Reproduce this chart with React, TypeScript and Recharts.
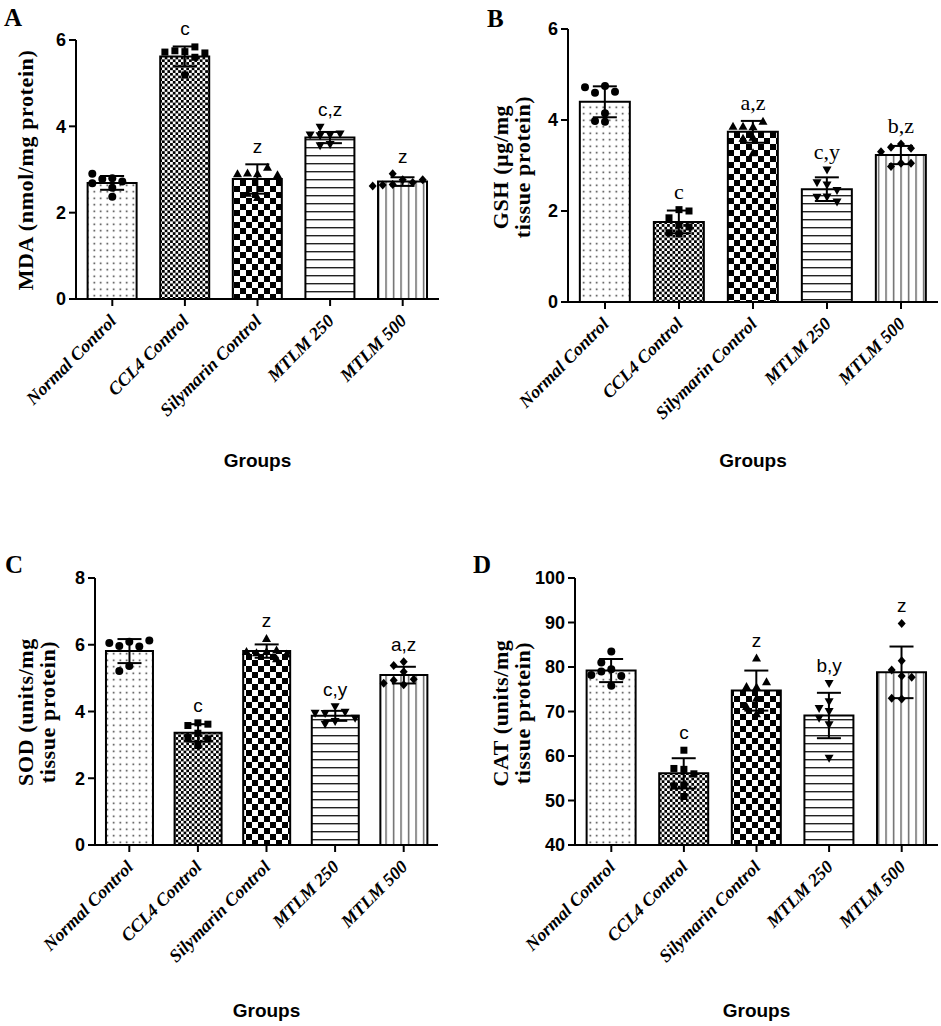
import React from "react";
import { ComposedChart, Bar, XAxis, YAxis, Scatter, ErrorBar, Cell } from "recharts";

const groups = ["Normal Control", "CCL4 Control", "Silymarin Control", "MTLM 250", "MTLM 500"];

// A - MDA
const mdaMean = [2.69, 5.62, 2.78, 3.74, 2.72];
const mdaSd = [0.16, 0.23, 0.34, 0.13, 0.1];
const mdaPoints = [
  [2.8, 2.78, 2.72, 2.68, 2.9, 2.37, 2.58],
  [5.73, 5.75, 5.84, 5.6, 5.72, 5.7, 5.19],
  [2.9, 2.92, 3.05, 2.9, 2.88, 2.35, 2.45],
  [3.8, 3.78, 3.98, 3.82, 3.8, 3.58, 3.55],
  [2.76, 2.65, 2.9, 2.7, 2.64, 2.76, 2.62],
];
const mdaLetters = ["", "c", "z", "c,z", "z"];
const mdaTicks = [0, 2, 4, 6];

// B - GSH
const gshMean = [4.4, 1.76, 3.74, 2.48, 3.23];
const gshSd = [0.34, 0.25, 0.24, 0.26, 0.2];
const gshPoints = [
  [4.75, 4.6, 4.62, 4.72, 4.15, 3.98, 3.96],
  [2.03, 1.7, 1.52, 1.85, 1.5, 1.65, 2.0],
  [3.85, 3.86, 3.97, 3.62, 3.6, 3.86, 3.28],
  [2.9, 2.57, 2.62, 2.45, 2.31, 2.3, 2.2],
  [3.47, 3.4, 3.38, 3.3, 3.05, 2.98, 3.05],
];
const gshLetters = ["", "c", "a,z", "c,y", "b,z"];
const gshTicks = [0, 2, 4, 6];

// C - SOD
const sodMean = [5.81, 3.36, 5.81, 3.87, 5.09];
const sodSd = [0.36, 0.26, 0.2, 0.15, 0.25];
const sodPoints = [
  [6.09, 5.96, 5.95, 6.05, 6.13, 5.36, 5.21],
  [3.66, 3.58, 3.62, 3.35, 3.22, 3.18, 2.98],
  [6.19, 5.8, 5.76, 5.84, 5.8, 5.58, 5.72],
  [4.14, 3.94, 3.98, 3.95, 3.7, 3.8, 3.62],
  [5.49, 5.38, 5.19, 4.94, 4.97, 4.8, 4.85],
];
const sodLetters = ["", "c", "z", "c,y", "a,z"];
const sodTicks = [0, 2, 4, 6, 8];

// D - CAT
const catMean = [79.2, 56.1, 74.7, 69.1, 78.8];
const catSd = [2.6, 3.4, 4.5, 5.1, 5.8];
const catPoints = [
  [83.5, 79.5, 81.0, 79.0, 78.0, 78.2, 75.8],
  [61.3, 57.0, 57.2, 56.0, 53.5, 53.3, 50.9],
  [82.0, 75.5, 75.6, 76.7, 73.0, 71.1, 69.5],
  [76.3, 72.2, 70.7, 70.0, 67.0, 68.5, 59.5],
  [89.8, 81.4, 78.0, 79.3, 77.7, 72.8, 73.0],
];
const catLetters = ["", "c", "z", "b,y", "z"];
const catTicks = [40, 50, 60, 70, 80, 90, 100];

const SERIF = "Liberation Serif, Times New Roman, serif";
const SANS = "Liberation Sans, Arial, sans-serif";

// spread overlapping points sideways, like a column scatter
function spread(vals: number[], pxPerUnit: number, bandPx: number) {
  const d = 8.5;
  const step = 10;
  const placed: { x: number; y: number }[] = [];
  return vals.map((v) => {
    const y = v * pxPerUnit;
    for (let k = 0; k < 40; k++) {
      const off = k === 0 ? 0 : (k % 2 ? -1 : 1) * Math.ceil(k / 2) * step;
      if (placed.every((p) => Math.hypot(p.x - off, p.y - y) >= d)) {
        placed.push({ x: off, y });
        return off / bandPx;
      }
    }
    return 0;
  });
}

function Marker(props: any) {
  const { cx, cy, payload } = props;
  const g = payload.g;
  if (g === 0) return <circle cx={cx} cy={cy} r={4} fill="#000" />;
  if (g === 1) return <rect x={cx - 3.5} y={cy - 3.5} width={7} height={7} fill="#000" />;
  if (g === 2) return <polygon points={`${cx},${cy - 4.5} ${cx - 4.5},${cy + 3.5} ${cx + 4.5},${cy + 3.5}`} fill="#000" />;
  if (g === 3) return <polygon points={`${cx},${cy + 4.5} ${cx - 4.5},${cy - 3.5} ${cx + 4.5},${cy - 3.5}`} fill="#000" />;
  return <polygon points={`${cx},${cy - 4.5} ${cx + 4},${cy} ${cx},${cy + 4.5} ${cx - 4},${cy}`} fill="#000" />;
}

function Patterns({ id }: { id: string }) {
  return (
    <defs>
      <pattern id={`${id}-p0`} width={6.5} height={6.5} patternUnits="userSpaceOnUse">
        <rect width={6.5} height={6.5} fill="#fff" />
        <rect x={2.5} y={2.5} width={1.5} height={1.5} fill="#222" />
      </pattern>
      <pattern id={`${id}-p1`} width={5.4} height={5.4} patternUnits="userSpaceOnUse">
        <rect width={5.4} height={5.4} fill="#fff" />
        <rect x={0} y={0} width={2.7} height={2.7} fill="#000" />
        <rect x={2.7} y={2.7} width={2.7} height={2.7} fill="#000" />
      </pattern>
      <pattern id={`${id}-p2`} width={12} height={12} patternUnits="userSpaceOnUse">
        <rect width={12} height={12} fill="#fff" />
        <rect x={0} y={0} width={6} height={6} fill="#000" />
        <rect x={6} y={6} width={6} height={6} fill="#000" />
      </pattern>
      <pattern id={`${id}-p3`} width={8} height={8} patternUnits="userSpaceOnUse">
        <rect width={8} height={8} fill="#fff" />
        <rect x={0} y={3} width={8} height={1.4} fill="#222" />
      </pattern>
      <pattern id={`${id}-p4`} width={7.5} height={7.5} patternUnits="userSpaceOnUse">
        <rect width={7.5} height={7.5} fill="#fff" />
        <rect x={3} y={0} width={1.2} height={7.5} fill="#444" />
      </pattern>
    </defs>
  );
}

function XTick(props: any) {
  const { x, y, payload } = props;
  const px = x + 5;
  const py = y + 14;
  return (
    <text
      x={px}
      y={py}
      transform={`rotate(-45, ${px}, ${py})`}
      textAnchor="end"
      fontFamily={SERIF}
      fontStyle="italic"
      fontWeight="bold"
      fontSize={18}
      fill="#000"
    >
      {payload.value}
    </text>
  );
}

type PanelProps = {
  id: string;
  tag: string;
  left: number;
  top: number;
  width: number;
  height: number;
  plotTop: number;
  plotRight: number;
  yWidth: number;
  xHeight: number;
  tagX: number;
  tagY: number;
  yLabel: string[];
  yLabelX: number[];
  yLabelY: number;
  groupsY: number;
  mean: number[];
  sd: number[];
  points: number[][];
  letters: string[];
  ticks: number[];
  letterFont: string;
  letterSize: number;
};

function Panel(p: PanelProps) {
  const lo = p.ticks[0];
  const hi = p.ticks[p.ticks.length - 1];
  const plotW = p.width - p.yWidth - p.plotRight;
  const plotH = p.height - p.plotTop - p.xHeight;
  const pxPerUnit = plotH / (hi - lo);
  const bandPx = plotW / groups.length;

  const barData = groups.map((name, i) => ({ name, mean: p.mean[i], sd: p.sd[i] }));
  const pointData = p.points.flatMap((vals, g) =>
    spread(vals, pxPerUnit, bandPx).map((off, k) => ({ x: g + off, y: vals[k], g }))
  );
  const letterData = p.letters.map((t, i) => ({
    x: i,
    y: Math.max(p.mean[i] + p.sd[i], ...p.points[i]),
    t,
  }));

  const cx = p.yWidth + plotW / 2;

  return (
    <div style={{ position: "absolute", left: p.left, top: p.top }}>
      <ComposedChart
        width={p.width}
        height={p.height}
        data={barData}
        margin={{ top: p.plotTop, right: p.plotRight, left: 0, bottom: 0 }}
        barCategoryGap="16%"
      >
        <Patterns id={p.id} />
        <XAxis
          dataKey="name"
          type="category"
          height={p.xHeight}
          interval={0}
          tick={<XTick />}
          tickSize={7}
          tickMargin={2}
          axisLine={{ stroke: "#000", strokeWidth: 2 }}
          tickLine={{ stroke: "#000", strokeWidth: 2 }}
        />
        <XAxis xAxisId="pts" dataKey="x" type="number" domain={[-0.5, 4.5]} hide />
        <YAxis
          width={p.yWidth}
          domain={[lo, hi]}
          ticks={p.ticks}
          interval={0}
          tickSize={7}
          tickMargin={3}
          axisLine={{ stroke: "#000", strokeWidth: 2 }}
          tickLine={{ stroke: "#000", strokeWidth: 2 }}
          tick={{ fill: "#000", fontFamily: SANS, fontWeight: "bold", fontSize: 18 }}
        />
        <Bar dataKey="mean" stroke="#000" strokeWidth={2} isAnimationActive={false}>
          {barData.map((d, i) => (
            <Cell key={d.name} fill={`url(#${p.id}-p${i})`} />
          ))}
          <ErrorBar dataKey="sd" width={12} stroke="#000" strokeWidth={2} direction="y" />
        </Bar>
        <Scatter xAxisId="pts" data={pointData} dataKey="y" shape={<Marker />} isAnimationActive={false} />
        <Scatter
          xAxisId="pts"
          data={letterData}
          dataKey="y"
          isAnimationActive={false}
          shape={(s: any) => (
            <text
              x={s.cx}
              y={s.cy - 11}
              textAnchor="middle"
              fontFamily={p.letterFont}
              fontSize={p.letterSize}
              fill="#000"
            >
              {s.payload.t}
            </text>
          )}
        />
        <text x={p.tagX} y={p.tagY} fontFamily={SERIF} fontWeight="bold" fontSize={25} fill="#000">
          {p.tag}
        </text>
        {p.yLabel.map((line, i) => (
          <text
            key={line}
            x={p.yLabelX[i]}
            y={p.yLabelY}
            transform={`rotate(-90, ${p.yLabelX[i]}, ${p.yLabelY})`}
            textAnchor="middle"
            fontFamily={SERIF}
            fontWeight="bold"
            fontSize={22}
            letterSpacing={0.6}
            fill="#000"
          >
            {line}
          </text>
        ))}
        <text x={cx} y={p.groupsY} textAnchor="middle" fontFamily={SANS} fontWeight="bold" fontSize={19} fill="#000">
          Groups
        </text>
      </ComposedChart>
    </div>
  );
}

export default function App() {
  return (
    <div style={{ position: "absolute", left: 0, top: 0, width: 941, height: 1026, background: "#fff" }}>
      <Panel
        id="a"
        tag="A"
        left={0}
        top={0}
        width={470}
        height={480}
        plotTop={40}
        plotRight={31}
        yWidth={76}
        xHeight={181}
        tagX={4}
        tagY={26}
        yLabel={["MDA (nmol/mg protein)"]}
        yLabelX={[33]}
        yLabelY={170}
        groupsY={467}
        mean={mdaMean}
        sd={mdaSd}
        points={mdaPoints}
        letters={mdaLetters}
        ticks={mdaTicks}
        letterFont={SANS}
        letterSize={19}
      />
      <Panel
        id="b"
        tag="B"
        left={470}
        top={0}
        width={471}
        height={480}
        plotTop={29}
        plotRight={3}
        yWidth={98}
        xHeight={178}
        tagX={17}
        tagY={27}
        yLabel={["GSH (µg/mg", "tissue protein)"]}
        yLabelX={[38, 60]}
        yLabelY={167}
        groupsY={467}
        mean={gshMean}
        sd={gshSd}
        points={gshPoints}
        letters={gshLetters}
        ticks={gshTicks}
        letterFont={SERIF}
        letterSize={22}
      />
      <Panel
        id="c"
        tag="C"
        left={0}
        top={540}
        width={470}
        height={486}
        plotTop={38}
        plotRight={32}
        yWidth={95}
        xHeight={181}
        tagX={5}
        tagY={33}
        yLabel={["SOD (units/mg", "tissue protein)"]}
        yLabelX={[33, 55]}
        yLabelY={172}
        groupsY={477}
        mean={sodMean}
        sd={sodSd}
        points={sodPoints}
        letters={sodLetters}
        ticks={sodTicks}
        letterFont={SANS}
        letterSize={19}
      />
      <Panel
        id="d"
        tag="D"
        left={470}
        top={540}
        width={471}
        height={486}
        plotTop={38}
        plotRight={3}
        yWidth={105}
        xHeight={181}
        tagX={3}
        tagY={33}
        yLabel={["CAT (units/mg", "tissue protein)"]}
        yLabelX={[38, 60]}
        yLabelY={173}
        groupsY={477}
        mean={catMean}
        sd={catSd}
        points={catPoints}
        letters={catLetters}
        ticks={catTicks}
        letterFont={SANS}
        letterSize={19}
      />
    </div>
  );
}
